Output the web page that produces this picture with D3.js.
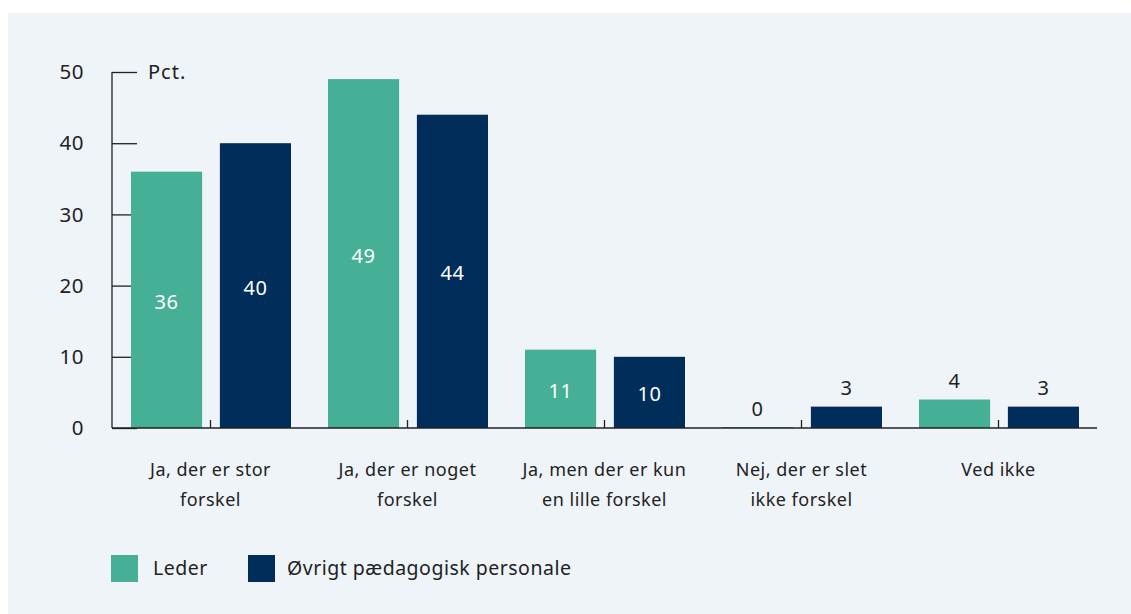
<!DOCTYPE html>
<html>
<head>
<meta charset="utf-8">
<script src="https://cdn.jsdelivr.net/npm/d3@7"></script>
<style>
  body { margin: 0; background: #fff; }
  svg { display: block; font-family: "Noto Sans", sans-serif; letter-spacing: 0.5px; }
</style>
</head>
<body>
<div id="chart"></div>
<script>
const categories = [
  ['Ja, der er stor', 'forskel'],
  ['Ja, der er noget', 'forskel'],
  ['Ja, men der er kun', 'en lille forskel'],
  ['Nej, der er slet', 'ikke forskel'],
  ['Ved ikke']
]
const series = ['Leder', 'Øvrigt pædagogisk personale']
const leder = [36, 49, 11, 0, 4]
const oevrigt = [40, 44, 10, 3, 3]
const yTicks = [0, 10, 20, 30, 40, 50]

const colors = ['#45b095', '#002d5a']
const width = 1131
const height = 614
const x0 = 112, x1 = 1097
const y0 = 428, y1 = 72

const svg = d3.select('#chart').append('svg').attr('width', width).attr('height', height)

svg.append('rect').attr('x', 8).attr('y', 13).attr('width', width - 8).attr('height', height - 13)
  .attr('fill', '#eff4f9')

const x = d3.scaleBand().domain(d3.range(categories.length)).range([x0, x1]).paddingInner(0).paddingOuter(0)
const xs = d3.scaleBand().domain(d3.range(series.length)).range([19, x.bandwidth() - 18]).paddingInner(0.2)
const y = d3.scaleLinear().domain([0, 50]).range([y0, y1])

// y axis
const yAxis = svg.append('g').attr('transform', `translate(${x0},0)`)
  .call(d3.axisRight(y).tickValues(yTicks).tickSize(25).tickFormat(''))
yAxis.select('.domain').remove()
yAxis.selectAll('line').attr('stroke', '#222').attr('stroke-width', 1.3)
svg.append('line').attr('x1', x0).attr('x2', x0).attr('y1', y1).attr('y2', y0)
  .attr('stroke', '#222').attr('stroke-width', 1.3)

svg.append('g').selectAll('text').data(yTicks).join('text')
  .attr('x', 84).attr('y', d => y(d)).attr('dy', '0.35em')
  .attr('text-anchor', 'end').attr('font-size', 20.5).attr('fill', '#222')
  .text(d => d)

svg.append('text').attr('x', 148).attr('y', y1).attr('dy', '0.35em')
  .attr('font-size', 20).attr('letter-spacing', 1).attr('fill', '#222').text('Pct.')

// bars
const rows = categories.map((c, i) => [leder[i], oevrigt[i]])
const groups = svg.append('g').selectAll('g').data(rows).join('g')
  .attr('transform', (d, i) => `translate(${x(i)},0)`)

groups.selectAll('rect').data(d => d).join('rect')
  .attr('x', (d, j) => xs(j))
  .attr('width', xs.bandwidth())
  .attr('y', d => y(d) - (d === 0 ? 1 : 0))
  .attr('height', d => y(0) - y(d) + (d === 0 ? 1 : 0))
  .attr('fill', (d, j) => colors[j])

groups.selectAll('text').data(d => d).join('text')
  .attr('x', (d, j) => xs(j) + xs.bandwidth() / 2)
  .attr('y', d => d >= 8 ? (y(d) + y(0)) / 2 + 2 : y(d) - 19)
  .attr('dy', '0.35em')
  .attr('text-anchor', 'middle')
  .attr('font-size', 20)
  .attr('fill', d => d >= 8 ? '#fff' : '#222')
  .text(d => d)

// x axis
svg.append('line').attr('x1', x0).attr('x2', x1).attr('y1', y0).attr('y2', y0)
  .attr('stroke', '#222').attr('stroke-width', 1.3)
svg.append('g').selectAll('line').data(d3.range(categories.length)).join('line')
  .attr('x1', i => x(i) + x.bandwidth() / 2).attr('x2', i => x(i) + x.bandwidth() / 2)
  .attr('y1', y0).attr('y2', y0 - 8)
  .attr('stroke', '#222').attr('stroke-width', 1.3)

svg.append('g').selectAll('text').data(categories).join('text')
  .attr('x', (d, i) => x(i) + x.bandwidth() / 2)
  .attr('y', 470)
  .attr('text-anchor', 'middle')
  .attr('font-size', 18).attr('fill', '#222')
  .each(function (d) {
    d3.select(this).selectAll('tspan').data(d).join('tspan')
      .attr('x', d3.select(this).attr('x'))
      .attr('dy', (t, k) => k === 0 ? '0.35em' : 30)
      .text(t => t)
  })

// legend
const legend = svg.append('g').selectAll('g').data(series).join('g')
  .attr('transform', (d, i) => `translate(${[111, 248][i]},555)`)
legend.append('rect').attr('width', 27).attr('height', 27).attr('fill', (d, i) => colors[i])
legend.append('text').attr('x', (d, i) => [42, 39][i]).attr('y', 13.5).attr('dy', '0.35em')
  .attr('font-size', 19.5).attr('fill', '#222').text(d => d)
</script>
</body>
</html>
